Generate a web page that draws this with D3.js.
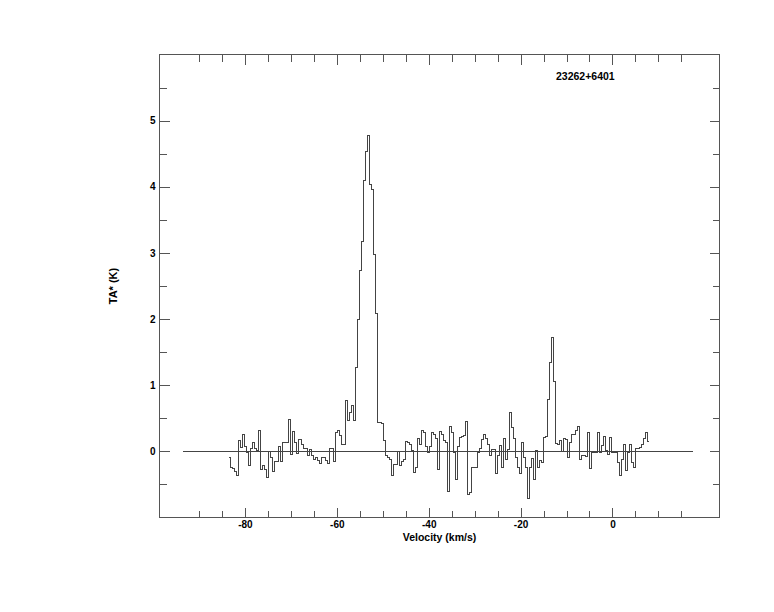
<!DOCTYPE html>
<html><head><meta charset="utf-8">
<script src="https://cdn.jsdelivr.net/npm/d3@7"></script>
<style>
body{margin:0;background:#fff}
svg{display:block}
text{font-family:"Liberation Sans",Arial,Helvetica,sans-serif;font-weight:bold;fill:#000}
</style>
</head><body><svg id="c" width="774" height="612"></svg>
<script>
const title = "23262+6401";
const xLabel = "Velocity (km/s)";
const yLabel = "TA* (K)";
const velStart = -83.48;   // left edge of first channel (km/s)
const chanWidth = 0.4356;  // channel width (km/s)
const ta = [
 -0.10,-0.24,-0.26,-0.30,-0.36, 0.17, 0.06, 0.26, 0.08,-0.02,
 -0.21, 0.04, 0.14, 0.05, 0.02, 0.31,-0.28,-0.22,-0.27,-0.39,
  0.00,-0.10,-0.30,-0.16,-0.15, 0.07,-0.15, 0.13, 0.14, 0.13,
  0.48,-0.04, 0.30, 0.14,-0.03, 0.18, 0.10, 0.05, 0.04,-0.06,
  0.03,-0.07,-0.13,-0.09,-0.14,-0.19,-0.09,-0.10,-0.14,-0.19,
  0.05, 0.05,-0.15, 0.29, 0.31, 0.24, 0.11, 0.11, 0.77, 0.46,
  0.59, 0.70, 0.46, 1.27, 2.00, 2.73, 3.18, 4.10, 4.53, 4.78,
  4.04, 3.96, 2.98, 2.09, 0.44, 0.44, 0.42, 0.16,-0.07,-0.09,
 -0.12,-0.37,-0.20,-0.20, 0.00,-0.22,-0.15,-0.12, 0.15, 0.14,
  0.10, 0.01,-0.32,-0.25, 0.20, 0.11, 0.31, 0.29, 0.08,-0.02,
  0.08, 0.29, 0.26, 0.19,-0.27, 0.30, 0.25, 0.16, 0.14,-0.60,
  0.38, 0.29,-0.02,-0.42, 0.08, 0.21, 0.23, 0.24, 0.45,-0.65,
 -0.62,-0.24,-0.24,-0.24,-0.02, 0.05, 0.18, 0.26, 0.19, 0.11,
 -0.06, 0.03, 0.03,-0.34,-0.07, 0.09,-0.24, 0.19,-0.12, 0.03,
  0.59, 0.36, 0.19,-0.09,-0.24,-0.34, 0.14,-0.09,-0.24,-0.72,
 -0.24,-0.11,-0.42, 0.01,-0.24,-0.14,-0.17, 0.21, 0.23, 0.79,
  1.35, 1.72, 1.05, 0.12, 0.10, 0.17, 0.00, 0.20, 0.18,-0.10,
  0.14, 0.25, 0.26, 0.32, 0.38,-0.13,-0.06,-0.07,-0.08, 0.29,
 -0.26,-0.02,-0.01,-0.02, 0.29,-0.02, 0.09, 0.23, 0.01,-0.04,
  0.21,-0.02,-0.02,-0.02,-0.17,-0.36,-0.12, 0.10,-0.29,-0.02,
  0.10,-0.17,-0.24, 0.04, 0.04, 0.06, 0.11, 0.19, 0.29, 0.15
];
const xMajorTicks = [-80, -60, -40, -20, 0];
const xMinorTicks = [-90, -85, -75, -70, -65, -55, -50, -45, -35, -30, -25, -15, -10, -5, 5, 10, 15];
const yMajorTicks = [0, 1, 2, 3, 4, 5];
const yMinorTicks = [-0.5, 0.5, 1.5, 2.5, 3.5, 4.5, 5.5];
const xDomain = [-98.6, 23.3];
const yDomain = [-1, 6];
const zeroLine = [-93.5, 17.6];

const svg = d3.select("#c");
const L = 159.5, R = 719.5, T = 54.5, B = 517.5;
const x = d3.scaleLinear().domain(xDomain).range([L, R]);
const y = d3.scaleLinear().domain(yDomain).range([B, T]);
const axisColor = "#555";

function styleAxis(g) {
  g.select(".domain").remove();
  g.selectAll(".tick line").attr("stroke", axisColor).attr("shape-rendering", "crispEdges");
  g.selectAll(".tick text").attr("fill", "#000").style("font-size", "10px").style("font-weight", "bold")
    .style("font-family", "'Liberation Sans', Arial, sans-serif");
}
const fmt = d => String(d);

// bottom
svg.append("g").attr("transform", `translate(0,${B})`)
  .call(d3.axisBottom(x).tickValues(xMajorTicks).tickSize(-10).tickPadding(3.5).tickFormat(fmt)).call(styleAxis);
svg.append("g").attr("transform", `translate(0,${B})`)
  .call(d3.axisBottom(x).tickValues(xMinorTicks).tickSize(-7).tickFormat("")).call(styleAxis);
// top
svg.append("g").attr("transform", `translate(0,${T})`)
  .call(d3.axisTop(x).tickValues(xMajorTicks).tickSize(-10).tickFormat("")).call(styleAxis);
svg.append("g").attr("transform", `translate(0,${T})`)
  .call(d3.axisTop(x).tickValues(xMinorTicks).tickSize(-7).tickFormat("")).call(styleAxis);
// left
svg.append("g").attr("transform", `translate(${L},0)`)
  .call(d3.axisLeft(y).tickValues(yMajorTicks).tickSize(-10).tickPadding(4).tickFormat(fmt)).call(styleAxis);
svg.append("g").attr("transform", `translate(${L},0)`)
  .call(d3.axisLeft(y).tickValues(yMinorTicks).tickSize(-7).tickFormat("")).call(styleAxis);
// right
svg.append("g").attr("transform", `translate(${R},0)`)
  .call(d3.axisRight(y).tickValues(yMajorTicks).tickSize(-10).tickFormat("")).call(styleAxis);
svg.append("g").attr("transform", `translate(${R},0)`)
  .call(d3.axisRight(y).tickValues(yMinorTicks).tickSize(-7).tickFormat("")).call(styleAxis);

// frame
svg.append("rect").attr("x", L).attr("y", T).attr("width", R - L).attr("height", B - T)
  .attr("fill", "none").attr("stroke", axisColor).attr("shape-rendering", "crispEdges");

// zero line
svg.append("line").attr("x1", x(zeroLine[0])).attr("x2", x(zeroLine[1]))
  .attr("y1", y(0)).attr("y2", y(0)).attr("stroke", "#444").attr("shape-rendering", "crispEdges");

// spectrum (histogram steps)
const pts = ta.map((v, i) => [velStart + i * chanWidth, v]);
pts.push([velStart + ta.length * chanWidth, ta[ta.length - 1]]);
const line = d3.line().x(d => x(d[0])).y(d => y(d[1])).curve(d3.curveStepAfter);
svg.append("path").attr("d", line(pts)).attr("fill", "none").attr("stroke", "#444")
  .attr("stroke-width", 1).attr("shape-rendering", "crispEdges");

// labels
svg.append("text").attr("x", (L + R) / 2).attr("y", 541).attr("text-anchor", "middle")
  .style("font-size", "10.5px").text(xLabel);
svg.append("text").attr("transform", `translate(116.5,${(T + B) / 2}) rotate(-90)`).attr("text-anchor", "middle")
  .style("font-size", "11px").text(yLabel);
svg.append("text").attr("x", 556).attr("y", 80).style("font-size", "10.5px").text(title);
</script>
</body></html>
